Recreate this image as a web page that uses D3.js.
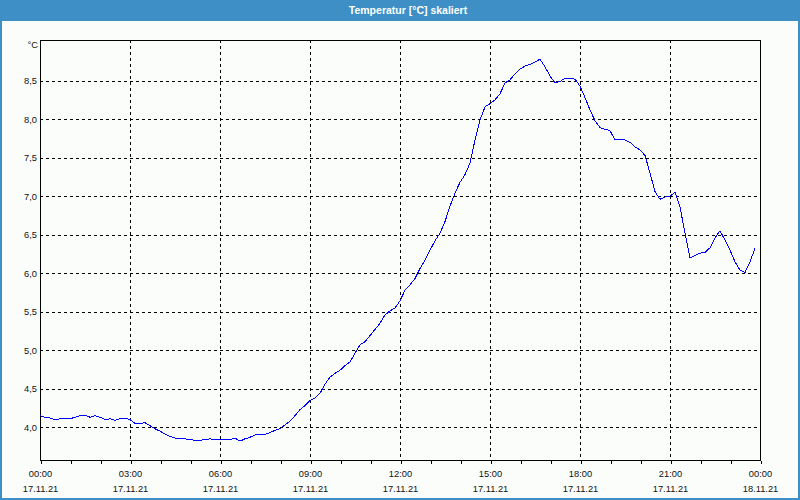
<!DOCTYPE html>
<html><head><meta charset="utf-8">
<script src="https://cdn.jsdelivr.net/npm/d3@7"></script>
<style>
html,body{margin:0;padding:0;background:#fff;}
svg text{font-family:"Liberation Sans",Arial,sans-serif;}
</style>
</head><body>
<svg id="c" width="800" height="500"></svg>
<script>
// ---- data ----
const titleText = "Temperatur [°C] skaliert";
const unitLabel = "°C";
const startTime = "2021-11-17T00:00:00";
const endTime = "2021-11-18T00:00:00";
const stepMinutes = 10;
const temps = [
 4.15,4.13,4.12,4.10,4.11,4.11,4.11,4.13,4.15,4.16,4.13,4.15,4.13,4.10,4.11,4.09,4.11,4.12,4.10,4.05,
 4.05,4.06,4.02,3.98,3.95,3.91,3.88,3.86,3.85,3.85,3.84,3.83,3.83,3.84,3.85,3.84,3.84,3.84,3.84,3.86,
 3.82,3.85,3.87,3.90,3.91,3.91,3.93,3.96,3.98,4.03,4.08,4.15,4.23,4.28,4.35,4.38,4.44,4.56,4.65,4.70,
 4.74,4.80,4.85,4.96,5.07,5.11,5.19,5.27,5.35,5.46,5.51,5.55,5.64,5.78,5.85,5.93,6.06,6.17,6.30,6.42,
 6.52,6.67,6.87,7.04,7.18,7.28,7.43,7.73,7.99,8.16,8.20,8.25,8.33,8.47,8.51,8.59,8.65,8.69,8.71,8.74,
 8.78,8.68,8.56,8.47,8.49,8.53,8.53,8.52,8.43,8.28,8.12,7.98,7.89,7.87,7.85,7.73,7.73,7.73,7.70,7.64,
 7.60,7.53,7.30,7.06,6.96,6.99,7.00,7.05,6.86,6.52,6.20,6.23,6.26,6.27,6.33,6.46,6.55,6.43,6.30,6.15,
 6.04,6.01,6.15,6.32
];
const yTicks = [4.0,4.5,5.0,5.5,6.0,6.5,7.0,7.5,8.0,8.5];
const yDomain = [3.575, 9.028];
const majorHours = 3;
const minorHours = 1;

// ---- drawing ----
const svg = d3.select("#c");
const W = 800, H = 500;
const m = {left:40, right:760, top:40, bottom:460};
const blue = "#3d8fc5";

svg.append("rect").attr("x",0).attr("y",0).attr("width",W).attr("height",H).attr("fill","#fbfdfb");
// outer frame
svg.append("rect").attr("x",1).attr("y",1).attr("width",W-2).attr("height",H-2)
  .attr("fill","none").attr("stroke",blue).attr("stroke-width",2);
// title bar
svg.append("rect").attr("x",0).attr("y",0).attr("width",W).attr("height",21).attr("fill",blue);
svg.append("text").attr("x",408).attr("y",14).attr("text-anchor","middle")
  .attr("fill","#fff").attr("font-size","10.5px").attr("font-weight","bold").text(titleText);

const parse = d3.isoParse;
const t0 = parse(startTime), t1 = parse(endTime);
const data = temps.map((v,i)=>({t:new Date(+t0 + i*stepMinutes*60000), v}));

const x = d3.scaleTime().domain([t0,t1]).range([m.left,m.right]);
const y = d3.scaleLinear().domain(yDomain).range([m.bottom,m.top]);
const px = v => Math.round(v)+0.5;

const g = svg.append("g").attr("shape-rendering","crispEdges");
// horizontal grid
g.selectAll("line.hg").data(yTicks).join("line")
  .attr("x1",m.left).attr("x2",m.right)
  .attr("y1",d=>px(y(d))).attr("y2",d=>px(y(d)))
  .attr("stroke","#000").attr("stroke-dasharray","3,3");
// vertical grid
const majors = d3.timeHour.every(majorHours).range(t0, d3.timeMinute.offset(t1,1));
const innerMajors = majors.filter(d=> +d> +t0 && +d < +t1);
g.selectAll("line.vg").data(innerMajors).join("line")
  .attr("y1",m.top).attr("y2",m.bottom)
  .attr("x1",d=>px(x(d))).attr("x2",d=>px(x(d)))
  .attr("stroke","#000").attr("stroke-dasharray","3,3");

// data line
const line = d3.line().x(d=>x(d.t)).y(d=>y(d.v));
svg.append("path").datum(data).attr("d",line).attr("fill","none")
  .attr("stroke","#0000ff").attr("stroke-width",1).attr("shape-rendering","crispEdges");

// plot border
g.append("rect").attr("x",m.left+0.5).attr("y",m.top+0.5)
  .attr("width",m.right-m.left).attr("height",m.bottom-m.top)
  .attr("fill","none").attr("stroke","#000");

// x axis
const minors = d3.timeHour.every(minorHours).range(t0, d3.timeMinute.offset(t1,1));
const xAxis = d3.axisBottom(x).tickValues(minors).tickSize(3).tickFormat("");
const ax = svg.append("g").attr("transform",`translate(0.5,${m.bottom+0.5})`).call(xAxis);
ax.select(".domain").remove();
ax.selectAll("line").attr("stroke","#000").attr("shape-rendering","crispEdges");
const fmtT = d3.timeFormat("%H:%M"), fmtD = d3.timeFormat("%d.%m.%y");
const lab = svg.append("g");
lab.selectAll("text.t").data(majors).join("text")
  .attr("x",d=>x(d)+0.5).attr("y",477).attr("text-anchor","middle")
  .attr("font-size","9.3px").attr("fill","#111").text(fmtT);
lab.selectAll("text.d").data(majors).join("text")
  .attr("x",d=>x(d)+0.5).attr("y",492).attr("text-anchor","middle")
  .attr("font-size","9.3px").attr("fill","#111").text(fmtD);

// y labels
const fmtY = v => d3.format(".1f")(v).replace(".",",");
svg.append("g").selectAll("text").data(yTicks).join("text")
  .attr("x",37).attr("y",d=>y(d)+3.5).attr("text-anchor","end")
  .attr("font-size","9.3px").attr("fill","#111").text(fmtY);
svg.append("text").attr("x",38).attr("y",48).attr("text-anchor","end")
  .attr("font-size","9.3px").attr("fill","#111").text(unitLabel);
</script>
</body></html>
